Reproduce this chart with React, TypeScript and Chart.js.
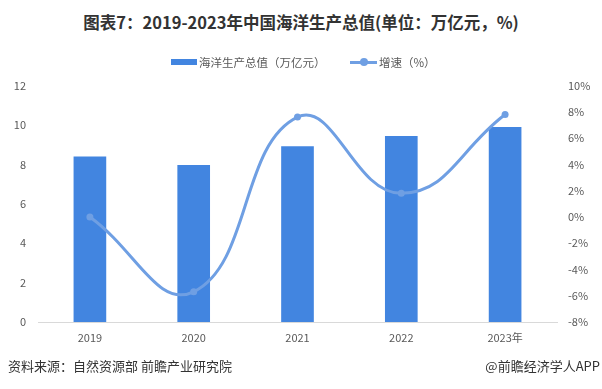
import React, { useEffect, useRef } from "react";
import { Chart, registerables } from "chart.js";

Chart.register(...registerables);

const categories = ["2019", "2020", "2021", "2022", "2023年"];
const outputValues = [8.38, 7.95, 8.9, 9.42, 9.88];
const growthValues = [0.0, -5.7, 7.6, 1.8, 7.8];
const leftTicks = { min: 0, max: 12, step: 2 };
const rightTicks = { min: -8, max: 10, step: 2 };

const BAR_COLOR = "#4285e0";
const LINE_COLOR = "#6f9fe3";
const FONT = "'Noto Sans CJK SC', 'Noto Sans', sans-serif";

export default function App() {
  const ref = useRef<HTMLCanvasElement | null>(null);

  useEffect(() => {
    document.body.style.margin = "0";
    const canvas = ref.current;
    if (!canvas) return;
    const chart = new Chart(canvas, {
      data: {
        labels: categories,
        datasets: [
          {
            type: "line",
            label: "增速（%）",
            data: growthValues,
            yAxisID: "y1",
            borderColor: LINE_COLOR,
            backgroundColor: LINE_COLOR,
            borderWidth: 3,
            pointRadius: 3.5,
            pointBackgroundColor: LINE_COLOR,
            pointBorderWidth: 0,
            tension: 0.45,
            order: 0,
          },
          {
            type: "bar",
            label: "海洋生产总值（万亿元）",
            data: outputValues,
            yAxisID: "y",
            backgroundColor: BAR_COLOR,
            barThickness: 32,
            order: 1,
          },
        ],
      },
      options: {
        responsive: false,
        animation: false,
        devicePixelRatio: 1,
        layout: { padding: { top: 0, left: 0, right: 0, bottom: 0 } },
        plugins: { legend: { display: false }, tooltip: { enabled: false } },
        scales: {
          x: {
            grid: { display: false, drawTicks: false },
            border: { display: true, color: "#d9d9d9", width: 1 },
            ticks: { color: "#595959", font: { size: 11, family: FONT }, padding: 9 },
            afterFit: (s: any) => {
              s.height = 35;
            },
          },
          y: {
            position: "left",
            min: leftTicks.min,
            max: leftTicks.max,
            grid: { display: false, drawTicks: false },
            border: { display: false },
            ticks: { stepSize: leftTicks.step, color: "#595959", font: { size: 11, family: FONT }, padding: 12 },
            afterFit: (s: any) => {
              s.width = 38;
            },
          },
          y1: {
            position: "right",
            min: rightTicks.min,
            max: rightTicks.max,
            grid: { display: false, drawTicks: false },
            border: { display: false },
            ticks: {
              stepSize: rightTicks.step,
              color: "#595959",
              font: { size: 11, family: FONT },
              padding: 11,
              callback: (v: any) => v + "%",
            },
            afterFit: (s: any) => {
              s.width = 45;
            },
          },
        },
      },
    } as any);
    return () => chart.destroy();
  }, []);

  return (
    <div
      style={{
        position: "absolute",
        left: 0,
        top: 0,
        width: 602,
        height: 389,
        background: "#fff",
        fontFamily: FONT,
        overflow: "hidden",
      }}
    >
      <canvas ref={ref} width={602} height={290} style={{ position: "absolute", top: 67, left: 0, width: 602, height: 290 }} />
      <div
        style={{
          position: "absolute",
          top: 10,
          left: 0,
          width: 602,
          textAlign: "center",
          fontSize: 16.5,
          fontWeight: "bold",
          color: "#333",
          lineHeight: "24px",
        }}
      >
        图表7：2019-2023年中国海洋生产总值(单位：万亿元，%)
      </div>
      <div style={{ position: "absolute", top: 54, left: 171, height: 16, display: "flex", alignItems: "center", fontSize: 11.5, color: "#595959" }}>
        <span style={{ display: "inline-block", width: 26, height: 6, background: BAR_COLOR, marginRight: 2 }} />
        <span>海洋生产总值（万亿元）</span>
      </div>
      <div style={{ position: "absolute", top: 54, left: 350, height: 16, display: "flex", alignItems: "center", fontSize: 11.5, color: "#595959" }}>
        <span style={{ position: "relative", display: "inline-block", width: 27, height: 3, background: LINE_COLOR, marginRight: 2 }}>
          <span style={{ position: "absolute", left: 10, top: -2.5, width: 8, height: 8, borderRadius: 4, background: LINE_COLOR }} />
        </span>
        <span>增速（%）</span>
      </div>
      <div style={{ position: "absolute", top: 357, left: 8, fontSize: 13, color: "#333", lineHeight: "18px" }}>
        资料来源：自然资源部 前瞻产业研究院
      </div>
      <div style={{ position: "absolute", top: 357, right: 2, fontSize: 13, color: "#333", lineHeight: "18px" }}>
        @前瞻经济学人APP
      </div>
    </div>
  );
}
